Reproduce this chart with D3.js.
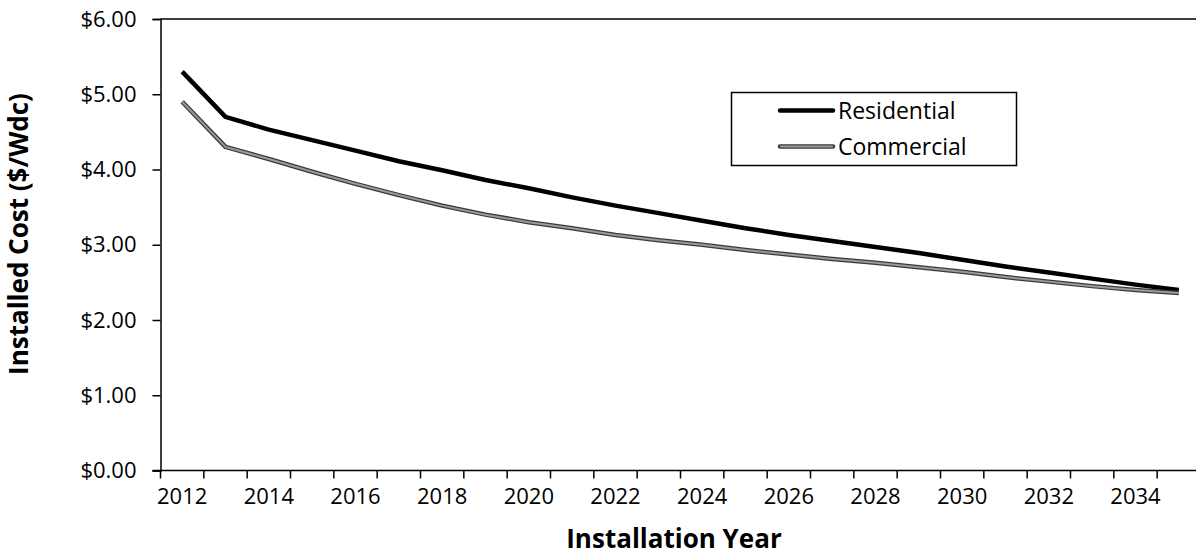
<!DOCTYPE html>
<html>
<head>
<meta charset="utf-8">
<script src="https://cdn.jsdelivr.net/npm/d3@7/dist/d3.min.js"></script>
<style>
  html, body { margin: 0; padding: 0; background: #fff; }
  svg { display: block; font-family: "Open Sans", "Liberation Sans", sans-serif; }
</style>
</head>
<body>
<svg id="chart" width="1196" height="560"></svg>
<script>
// Installation years (one category per year)
const years = [2012, 2013, 2014, 2015, 2016, 2017, 2018, 2019, 2020, 2021, 2022, 2023,
               2024, 2025, 2026, 2027, 2028, 2029, 2030, 2031, 2032, 2033, 2034, 2035];

// Installed cost, $/Wdc
const residential = [5.30, 4.70, 4.53, 4.39, 4.25, 4.11, 3.99, 3.86, 3.75, 3.63, 3.52, 3.42,
                     3.32, 3.22, 3.13, 3.05, 2.97, 2.89, 2.80, 2.71, 2.63, 2.55, 2.47, 2.40];
const commercial  = [4.90, 4.30, 4.14, 3.97, 3.81, 3.66, 3.52, 3.40, 3.30, 3.22, 3.13, 3.06,
                     3.00, 2.93, 2.87, 2.81, 2.76, 2.70, 2.64, 2.57, 2.51, 2.45, 2.40, 2.36];

const yTicks = [0, 1, 2, 3, 4, 5, 6];
const xLabelYears = years.filter(y => y % 2 === 0);
const seriesNames = ["Residential", "Commercial"];

const svg = d3.select("#chart");
const plot = { left: 160.5, right: 1200.5, top: 19, bottom: 470.5 };

// Category axis: each year occupies one band, boundaries at half-years
const x = d3.scaleLinear()
  .domain([years[0] - 0.5, years[years.length - 1] + 0.5])
  .range([plot.left, plot.right]);
const y = d3.scaleLinear().domain([0, 6]).range([plot.bottom, plot.top]);

// Plot area frame (top and right edges)
svg.append("path")
  .attr("d", `M${plot.left},${plot.top}H${plot.right}V${plot.bottom}`)
  .attr("fill", "none").attr("stroke", "#000").attr("stroke-width", 1.5);

// Y axis
const yAxis = d3.axisLeft(y)
  .tickValues(yTicks)
  .tickSize(8)
  .tickPadding(16)
  .tickFormat(d => "$" + d3.format(".2f")(d));
const gy = svg.append("g").attr("transform", `translate(${plot.left},0)`).call(yAxis);
gy.select(".domain").attr("stroke", "#000").attr("stroke-width", 1.5);
gy.selectAll(".tick line").attr("stroke", "#000").attr("stroke-width", 1.5);
gy.selectAll(".tick text")
  .attr("font-size", 22).attr("fill", "#000")
  .attr("font-family", "'Open Sans', sans-serif");

// X axis: tick marks at category boundaries, labels on even years
const boundaries = years.map(d => d - 0.5).concat([years[years.length - 1] + 0.5]);
const gx = svg.append("g").attr("transform", `translate(0,${plot.bottom})`);
gx.append("line")
  .attr("x1", plot.left - 8).attr("x2", plot.right)
  .attr("stroke", "#000").attr("stroke-width", 1.5);
gx.selectAll("line.tk").data(boundaries).join("line")
  .attr("class", "tk")
  .attr("x1", d => x(d)).attr("x2", d => x(d))
  .attr("y1", 0).attr("y2", 8)
  .attr("stroke", "#000").attr("stroke-width", 1.5);
gx.selectAll("text").data(xLabelYears).join("text")
  .attr("x", d => x(d)).attr("y", 33)
  .attr("text-anchor", "middle")
  .attr("font-size", 22).attr("fill", "#000")
  .text(d => d);

// Axis titles
svg.append("text")
  .attr("x", 674).attr("y", 548)
  .attr("text-anchor", "middle").attr("font-weight", "bold")
  .attr("font-size", 26).attr("fill", "#000")
  .text("Installation Year");
svg.append("text")
  .attr("transform", "translate(28,234) rotate(-90)")
  .attr("text-anchor", "middle").attr("font-weight", "bold")
  .attr("font-size", 26).attr("fill", "#000")
  .text("Installed Cost ($/Wdc)");

// Lines
const line = d3.line().x((d, i) => x(years[i])).y(d => y(d));

svg.append("path").datum(residential)
  .attr("d", line).attr("fill", "none")
  .attr("stroke", "#000").attr("stroke-width", 4.5)
  .attr("stroke-linejoin", "round").attr("stroke-linecap", "butt");

// Commercial: grey line with dark edge
svg.append("path").datum(commercial)
  .attr("d", line).attr("fill", "none")
  .attr("stroke", "#3a3a3a").attr("stroke-width", 4.5)
  .attr("stroke-linejoin", "round");
svg.append("path").datum(commercial)
  .attr("d", line).attr("fill", "none")
  .attr("stroke", "#9a9a9a").attr("stroke-width", 2)
  .attr("stroke-linejoin", "round");

// Legend
const legend = svg.append("g");
legend.append("rect")
  .attr("x", 731.5).attr("y", 92.5).attr("width", 285).attr("height", 73)
  .attr("fill", "#fff").attr("stroke", "#000").attr("stroke-width", 1.5);
const legendRows = legend.selectAll("g.row").data(seriesNames).join("g")
  .attr("class", "row")
  .attr("transform", (d, i) => `translate(0,${110.5 + i * 36})`);
legendRows.append("line")
  .attr("x1", 780).attr("x2", 833)
  .attr("stroke", (d, i) => i === 0 ? "#000" : "#3a3a3a")
  .attr("stroke-width", 4.5).attr("stroke-linecap", "round");
legendRows.filter((d, i) => i === 1).append("line")
  .attr("x1", 780).attr("x2", 833)
  .attr("stroke", "#9a9a9a").attr("stroke-width", 2);
legendRows.append("text")
  .attr("x", 838).attr("y", 8)
  .attr("font-size", 23).attr("fill", "#000")
  .text(d => d);
</script>
</body>
</html>
